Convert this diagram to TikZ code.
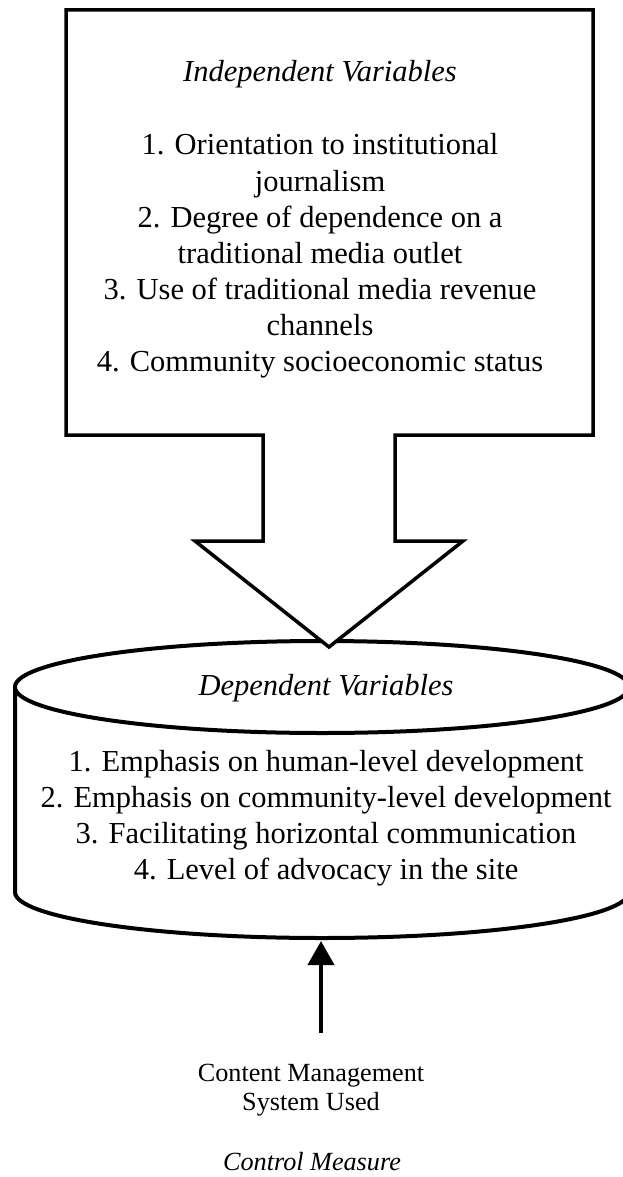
\documentclass[tikz,border=0pt]{standalone}
\usepackage{fontspec}
\setmainfont{Liberation Serif}
\usepackage{tikz}
\usetikzlibrary{arrows.meta}
\usetikzlibrary{calc}

\tikzset{
	bigtext/.style={anchor=base, inner sep=0pt, font=\fontsize{30.5}{36}\selectfont},
	smalltext/.style={anchor=base, inner sep=0pt, font=\fontsize{26.2}{29}\selectfont}
}

\begin{document}
\begin{tikzpicture}[x=1pt, y=-1pt, line join=miter]
	\useasboundingbox (0,0) rectangle (623,1177);

		\coordinate (c) at (322,687);
		\coordinate (cb) at (322,892);

		\begin{scope}[line width=4pt]
			\draw ($(c)+(-307,0)$) -- ($(cb)+(-307,0)$) arc[start angle=180, end angle=0, x radius=307, y radius=46] -- ($(c)+(307,0)$);
			\draw[fill=white] (c) ellipse[x radius=307, y radius=46];
		\end{scope}

		\draw[line width=3.5pt, fill=white] (66,10) -- (593,10) -- (593,435) -- (395,435) -- (395,541) -- (463,541)
			-- (329,647) -- (195,541) -- (263,541) -- (263,435) -- (66,435) -- cycle;

		\begin{scope}[every node/.style={bigtext}]
			\node[font=\fontsize{30.5}{36}\selectfont\itshape] (ivtitle) at (320,82) {Independent Variables};
			\foreach \t [count=\i] in {1. Orientation to institutional, journalism, 2. Degree of dependence on a,
				traditional media outlet, 3. Use of traditional media revenue, channels, 4. Community socioeconomic status}
				\node (iv\i) at (320,{155+36*(\i-1)}) {\t};

			\node[font=\fontsize{30.5}{36}\selectfont\itshape] (dvtitle) at (326,695) {Dependent Variables};
			\foreach \t [count=\i] in {1. Emphasis on human-level development, 2. Emphasis on community-level development,
				3. Facilitating horizontal communication, 4. Level of advocacy in the site}
				\node (dv\i) at (326,{771+36.3*(\i-1)}) {\t};
		\end{scope}

		\begin{scope}[every node/.style={smalltext}]
			\node (cms1) at (311,1081) {Content Management};
			\node (cms2) at (311,1110) {System Used};
			\node[font=\fontsize{26.2}{29}\selectfont\itshape] (ctrl) at (312,1170) {Control Measure};
		\end{scope}

		\coordinate (cmstail) at (321,1033);
		\coordinate (cylbase) at (321,941);
		\draw[line width=4pt, -{Triangle[length=24pt,width=26pt]}] (cmstail) -- (cylbase);

\end{tikzpicture}
\end{document}
